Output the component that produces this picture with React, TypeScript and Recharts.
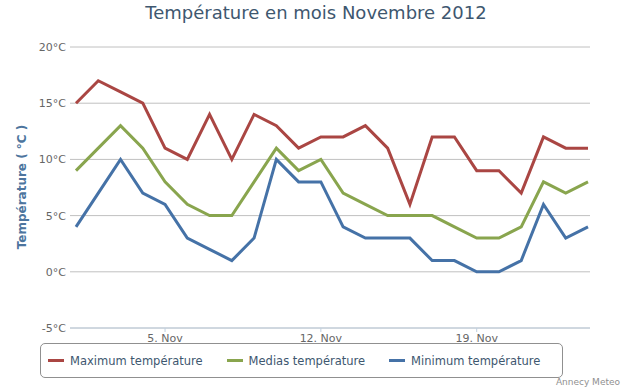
import React from "react";
import { LineChart, Line, XAxis, YAxis, CartesianGrid } from "recharts";

// jours de novembre 2012
const days = [1, 2, 3, 4, 5, 6, 7, 8, 9, 10, 11, 12, 13, 14, 15, 16, 17, 18, 19, 20, 21, 22, 23, 24];
const maxTemp = [15, 17, 16, 15, 11, 10, 14, 10, 14, 13, 11, 12, 12, 13, 11, 6, 12, 12, 9, 9, 7, 12, 11, 11];
const medTemp = [9, 11, 13, 11, 8, 6, 5, 5, 8, 11, 9, 10, 7, 6, 5, 5, 5, 4, 3, 3, 4, 8, 7, 8];
const minTemp = [4, 7, 10, 7, 6, 3, 2, 1, 3, 10, 8, 8, 4, 3, 3, 3, 1, 1, 0, 0, 1, 6, 3, 4];
const xTicks = [5, 12, 19];
const yTicks = [-5, 0, 5, 10, 15, 20];

const series = [
  { key: "max", name: "Maximum température", color: "#AA4643" },
  { key: "med", name: "Medias température", color: "#89A54E" },
  { key: "min", name: "Minimum température", color: "#4572A7" },
];

const data = days.map((d, i) => ({ day: d, max: maxTemp[i], med: medTemp[i], min: minTemp[i] }));

const font = '"DejaVu Sans", Verdana, Arial, sans-serif';

export default function App() {
  return (
    <div style={{ position: "absolute", left: 0, top: 0, width: 635, height: 389, background: "#fff", fontFamily: font }}>
      <div style={{ position: "absolute", left: 0, top: 2, width: 632, textAlign: "center", fontSize: 18, color: "#3E576F" }}>
        Température en mois Novembre 2012
      </div>
      <LineChart width={635} height={389} data={data} margin={{ top: 47, right: 45, bottom: 31, left: 0 }}>
        <CartesianGrid vertical={false} stroke="#C0C0C0" />
        <XAxis
          dataKey="day"
          type="number"
          domain={[1, 24]}
          ticks={xTicks}
          padding={{ left: 6, right: 2 }}
          tickFormatter={(v) => `${v}. Nov`}
          height={30}
          stroke="#C0D0E0"
          tickSize={4}
          tickMargin={2}
          tick={{ fontSize: 11, fill: "#666", fontFamily: font }}
        />
        <YAxis
          domain={[-5, 20]}
          ticks={yTicks}
          width={70}
          axisLine={false}
          tickLine={false}
          tickSize={0}
          tickMargin={4}
          tickFormatter={(v) => `${v}°C`}
          tick={{ fontSize: 11, fill: "#666", fontFamily: font }}
          label={{
            content: () => (
              <text
                x={22}
                y={187}
                transform="rotate(-90 22 187)"
                textAnchor="middle"
                dominantBaseline="middle"
                fontSize={12}
                fontWeight="bold"
                fill="#4D759E"
                fontFamily={font}
              >
                Température ( °C )
              </text>
            ),
          }}
        />
        {series.map((s) => (
          <Line
            key={s.key}
            dataKey={s.key}
            name={s.name}
            stroke={s.color}
            strokeWidth={3}
            dot={false}
            type="linear"
            isAnimationActive={false}
          />
        ))}
      </LineChart>
      <div
        style={{
          position: "absolute",
          left: 40,
          top: 343,
          width: 514,
          height: 33,
          border: "1px solid #909090",
          borderRadius: 5,
          display: "flex",
          alignItems: "center",
          paddingLeft: 7,
          boxSizing: "content-box",
          whiteSpace: "nowrap",
        }}
      >
        {series.map((s) => (
          <div key={s.key} style={{ display: "flex", alignItems: "center", marginRight: 24, flexShrink: 0 }}>
            <div style={{ width: 16, height: 3, background: s.color, marginRight: 6 }} />
            <span style={{ fontSize: 11.5, color: "#3E576F" }}>{s.name}</span>
          </div>
        ))}
      </div>
      <div style={{ position: "absolute", right: 15, top: 377, fontSize: 9, color: "#909090" }}>Annecy Meteo</div>
    </div>
  );
}
